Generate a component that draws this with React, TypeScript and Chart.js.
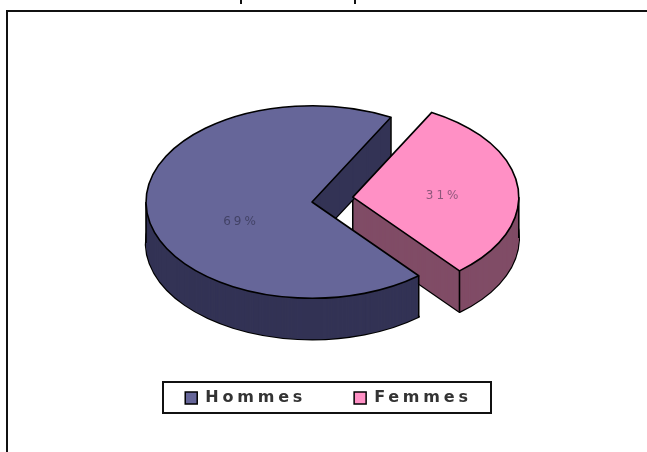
import React, { useEffect, useRef } from "react";
import { Chart, registerables } from "chart.js";

Chart.register(...registerables);

const categories = ["Hommes", "Femmes"];
const shares = [69, 31];
const topColors = ["#666699", "#FF90C5"];
const wallColors = ["#333355", "#804C66"];

const CX = 312;
const CY = 202;
const RADIUS = 166;
const TILT = 0.58;
const DEPTH = 41;
const sliceLift = [0, 2.5];
const labelRadial = [0.43, 0.55];
const labelDrop = [16, 2];
const LEGEND_SPACING = "3.8px";

function origin(arc: any, i: number) {
  const mid = (arc.startAngle + arc.endAngle) / 2;
  const off = arc.options.offset || 0;
  return {
    x: CX + Math.cos(mid) * off,
    y: CY + Math.sin(mid) * off * TILT - sliceLift[i],
  };
}

function slicePath(ctx: any, arc: any, i: number, dy: number) {
  const o = origin(arc, i);
  ctx.save();
  ctx.translate(o.x, o.y + dy);
  ctx.scale(1, TILT);
  ctx.beginPath();
  ctx.moveTo(0, 0);
  ctx.arc(0, 0, arc.outerRadius, arc.startAngle, arc.endAngle);
  ctx.closePath();
  ctx.restore();
}

function drawWall(ctx: any, arc: any, i: number) {
  ctx.fillStyle = wallColors[i];
  slicePath(ctx, arc, i, DEPTH);
  ctx.lineWidth = 2.4;
  ctx.stroke();
  ctx.lineWidth = 1.6;
  for (let d = DEPTH; d >= 1; d--) {
    slicePath(ctx, arc, i, d);
    ctx.fill();
  }
  const o = origin(arc, i);
  const angles = [arc.startAngle, arc.endAngle];
  for (const k of [-2, -1, 0, 1, 2]) {
    const a = k * Math.PI;
    if (a > arc.startAngle && a < arc.endAngle) angles.push(a);
  }
  ctx.beginPath();
  ctx.moveTo(o.x, o.y);
  ctx.lineTo(o.x, o.y + DEPTH);
  for (const a of angles) {
    const x = o.x + Math.cos(a) * arc.outerRadius;
    const y = o.y + Math.sin(a) * arc.outerRadius * TILT;
    ctx.moveTo(x, y);
    ctx.lineTo(x, y + DEPTH);
  }
  ctx.stroke();
}

function drawTop(ctx: any, arc: any, i: number) {
  ctx.fillStyle = topColors[i];
  slicePath(ctx, arc, i, 0);
  ctx.fill();
  ctx.stroke();
}

const pie3d = {
  id: "pie3d",
  beforeUpdate(chart: any) {
    chart.ctx.letterSpacing = LEGEND_SPACING;
  },
  afterLayout(chart: any) {
    chart.legend.top = 342;
  },
  beforeDraw(chart: any) {
    const ctx = chart.ctx;
    ctx.letterSpacing = LEGEND_SPACING;
    ctx.save();
    ctx.fillStyle = "#ffffff";
    ctx.fillRect(0, 0, chart.width, chart.height);
    ctx.strokeStyle = "#111111";
    ctx.lineWidth = 2;
    ctx.beginPath();
    ctx.moveTo(7, chart.height);
    ctx.lineTo(7, 11);
    ctx.lineTo(chart.width, 11);
    ctx.moveTo(241, 0);
    ctx.lineTo(241, 4);
    ctx.moveTo(355, 0);
    ctx.lineTo(355, 4);
    ctx.stroke();
    ctx.strokeRect(163, 382, 328, 31);
    ctx.restore();
  },
  beforeDatasetsDraw(chart: any) {
    const ctx = chart.ctx;
    const arcs = chart.getDatasetMeta(0).data;
    ctx.save();
    ctx.lineWidth = 1.6;
    ctx.lineJoin = "round";
    ctx.strokeStyle = "#000000";
    drawWall(ctx, arcs[1], 1);
    drawWall(ctx, arcs[0], 0);
    drawTop(ctx, arcs[1], 1);
    drawTop(ctx, arcs[0], 0);
    ctx.letterSpacing = "3px";
    ctx.font = "12px 'DejaVu Sans'";
    ctx.textAlign = "center";
    ctx.textBaseline = "middle";
    ctx.fillStyle = "rgba(30,30,50,0.5)";
    arcs.forEach((arc: any, i: number) => {
      const mid = (arc.startAngle + arc.endAngle) / 2;
      const off = arc.options.offset || 0;
      const r = off + arc.outerRadius * labelRadial[i];
      const x = CX + Math.cos(mid) * r;
      const y = CY + Math.sin(mid) * r * TILT + labelDrop[i];
      ctx.fillText(`${shares[i]}%`, x, y);
    });
    ctx.restore();
    ctx.letterSpacing = LEGEND_SPACING;
    return false;
  },
};

export default function App() {
  const ref = useRef<HTMLCanvasElement | null>(null);
  useEffect(() => {
    document.body.style.margin = "0";
    const chart = new Chart(ref.current as HTMLCanvasElement, {
      type: "pie",
      data: {
        labels: categories,
        datasets: [
          {
            data: shares,
            backgroundColor: topColors,
            borderColor: "#000000",
            borderWidth: 1.5,
            offset: [0, 41],
          },
        ],
      },
      options: {
        responsive: false,
        animation: false,
        rotation: 140,
        radius: RADIUS,
        layout: { padding: { left: 10 } },
        plugins: {
          tooltip: { enabled: false },
          legend: {
            position: "bottom",
            labels: {
              boxWidth: 12,
              boxHeight: 12,
              padding: 48,
              color: "#333333",
              font: { family: "'DejaVu Sans'", size: 16, weight: "bold" },
            },
          },
        },
      },
      plugins: [pie3d],
    } as any);
    return () => chart.destroy();
  }, []);
  return (
    <canvas
      ref={ref}
      width={647}
      height={452}
      style={{ display: "block", filter: "blur(0.6px)" }}
    />
  );
}
